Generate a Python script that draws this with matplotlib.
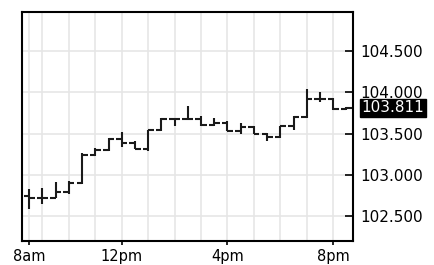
import matplotlib
matplotlib.use("Agg")
import matplotlib.pyplot as plt

# half-hour bars, time in hours (first bar sits on the "8am" label)
hours = [8.5, 9.0, 9.5, 10.0, 10.5, 11.0, 11.5, 12.0, 12.5, 13.0, 13.5, 14.0, 14.5,
         15.0, 15.5, 16.0, 16.5, 17.0, 17.5, 18.0, 18.5, 19.0, 19.5, 20.0, 20.5]
opens = [102.748, 102.728, 102.728, 102.796, 102.909, 103.240, 103.300, 103.429, 103.389,
         103.309, 103.541, 103.678, 103.678, 103.678, 103.601, 103.630, 103.537, 103.577,
         103.498, 103.462, 103.589, 103.697, 103.918, 103.918, 103.798]
highs = [102.828, 102.837, 102.916, 102.928, 103.269, 103.329, 103.441, 103.517, 103.409,
         103.549, 103.685, 103.690, 103.829, 103.709, 103.690, 103.649, 103.625, 103.589,
         103.510, 103.597, 103.709, 104.038, 104.002, 103.930, 103.817]
lows = [102.588, 102.648, 102.728, 102.768, 102.888, 103.228, 103.288, 103.341, 103.309,
        103.288, 103.529, 103.589, 103.661, 103.589, 103.597, 103.529, 103.489, 103.489,
        103.409, 103.450, 103.549, 103.690, 103.877, 103.790, 103.781]
closes = [102.728, 102.728, 102.796, 102.909, 103.240, 103.300, 103.429, 103.381, 103.309,
          103.541, 103.678, 103.678, 103.678, 103.601, 103.630, 103.537, 103.577, 103.498,
          103.462, 103.589, 103.697, 103.918, 103.918, 103.798, 103.811]

xtick_pos = [8.5, 12, 16, 20]
xtick_labels = ["8am", "12pm", "4pm", "8pm"]
grid_hours = [9, 10, 11, 12, 13, 14, 15, 16, 17, 18, 19, 20]
ytick_pos = [102.5, 103.0, 103.5, 104.0, 104.5]
last_price = 103.811

plt.rcParams['font.family'] = 'DejaVu Sans'

fig = plt.figure(figsize=(4.34, 2.65), dpi=100)
ax = fig.add_axes([22 / 434, 1 - 241 / 265, 331 / 434, 229 / 265])

w = 0.21
col = "#1a1a1a"
ax.vlines(hours, lows, highs, color=col, lw=1.5, zorder=3)
ax.hlines(opens, [h - w for h in hours], hours, color=col, lw=1.5, zorder=3)
ax.hlines(closes, hours, [h + w for h in hours], color=col, lw=1.5, zorder=3)

ax.set_xlim(8.225, 20.75)
ax.set_ylim(102.203, 104.968)

ax.set_xticks(xtick_pos)
ax.set_xticklabels(xtick_labels, fontsize=10.5)
ax.set_xticks(grid_hours, minor=True)
ax.tick_params(axis='x', which='major', direction='out', length=3, width=1.2, pad=3)
ax.tick_params(axis='x', which='minor', length=0)

ax.yaxis.tick_right()
ax.set_yticks(ytick_pos)
ax.set_yticklabels(["%.3f" % v for v in ytick_pos], fontsize=11)
ax.tick_params(axis='y', direction='in', length=6, width=1.2, pad=5)

ax.grid(True, which='both', axis='x', color="#e6e6e6", lw=1.2, zorder=0)
ax.grid(True, which='major', axis='y', color="#e6e6e6", lw=1.2, zorder=0)
ax.set_axisbelow(True)

for s in ax.spines.values():
    s.set_linewidth(1.5)
    s.set_color("black")

ax.annotate("%.3f" % last_price, xy=(1, last_price), xycoords=('axes fraction', 'data'),
            xytext=(6.2, 0), textcoords='offset points', va='center', ha='left',
            fontsize=11, color='white',
            bbox=dict(boxstyle='square,pad=0.1', fc='black', ec='black'))

fig.savefig("out.png", dpi=100)
